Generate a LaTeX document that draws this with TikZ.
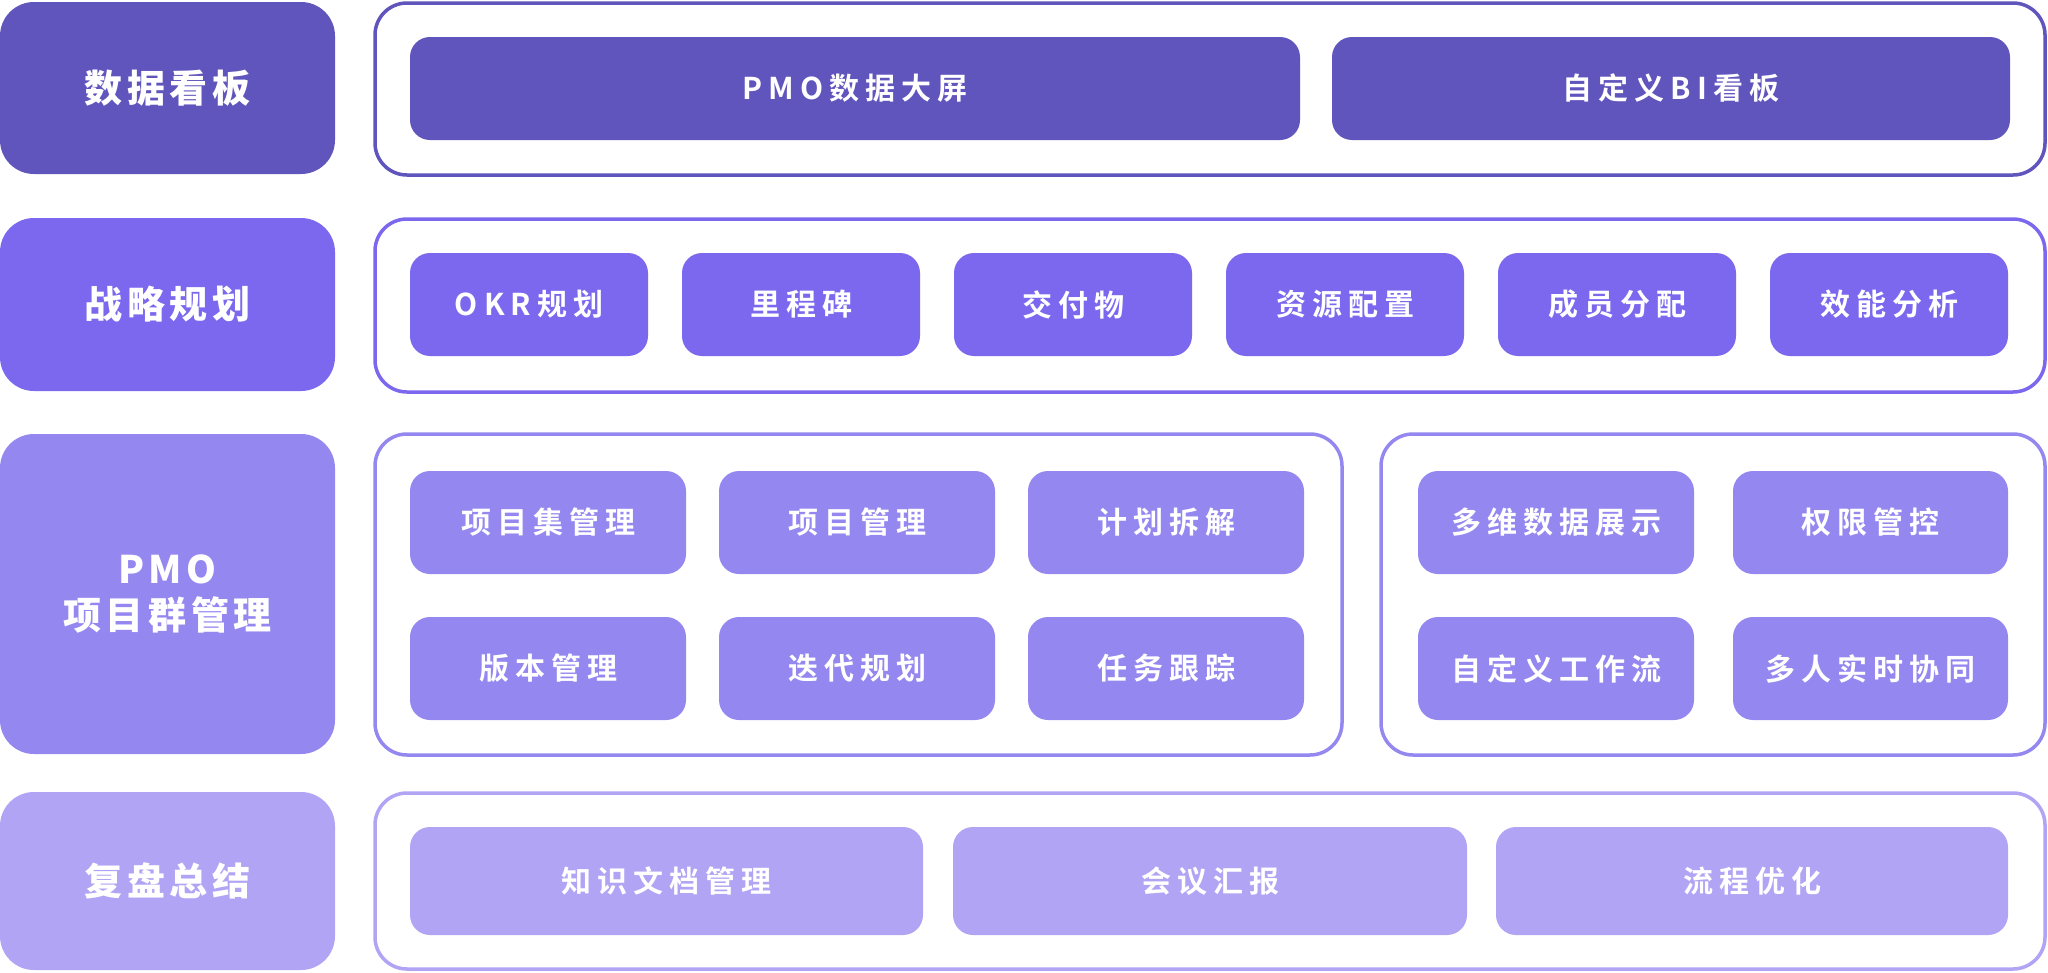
\documentclass[tikz,border=0pt]{standalone}
\usepackage{fontspec}
\setmainfont{Noto Sans CJK SC}
\newfontfamily\labfont{Noto Sans CJK SC}[LetterSpace=12, UprightFont=* Black]
\newfontfamily\boxfont{Noto Sans CJK SC}[LetterSpace=20, UprightFont=* Bold]
\definecolor{cA}{HTML}{6054BD}
\definecolor{cB}{HTML}{7B68EE}
\definecolor{cC}{HTML}{9488F0}
\definecolor{cD}{HTML}{B1A4F4}
\begin{document}
\begin{tikzpicture}[x=1pt,y=-1pt,
  lab/.style={fill=#1, draw=none, rounded corners=34pt, text=white, inner sep=0pt,
    font=\labfont\fontsize{38}{50}\selectfont, align=center, minimum width=335pt},
  frame/.style={draw=#1, line width=3.5pt, fill=white, rounded corners=32pt, inner sep=0pt},
  item/.style={fill=#1, draw=none, rounded corners=20pt, text=white, inner sep=0pt,
    font=\boxfont\fontsize{30}{36}\selectfont}
]
\useasboundingbox (0,0) rectangle (2048,972);
\fill[white] (0,0) rectangle (2048,972);

% ---------- left labels
\node[lab=cA, minimum height=172pt] (l1) at (167.5,88) {数据看板};
\node[lab=cB, minimum height=173pt] (l2) at (167.5,304.5) {战略规划};
\node[lab=cC, minimum height=320pt] (l3) at (167.5,594) {PMO\\[-4pt]项目群管理};
\node[lab=cD, minimum height=178pt] (l4) at (167.5,881) {复盘总结};

% ---------- frames
\node[frame=cA, minimum width=1670pt, minimum height=172pt] (f1) at (1210,89) {};
\node[frame=cB, minimum width=1670pt, minimum height=173pt] (f2) at (1210,305.5) {};
\node[frame=cC, minimum width=967pt, minimum height=321pt] (f3a) at (858.5,594.5) {};
\node[frame=cC, minimum width=664pt, minimum height=321pt] (f3b) at (1713,594.5) {};
\node[frame=cD, minimum width=1670pt, minimum height=176pt] (f4) at (1210,881) {};

% ---------- row 1
\node[item=cA, minimum width=890pt, minimum height=103pt] (a1) at (855,88.5) {PMO数据大屏};
\node[item=cA, minimum width=678pt, minimum height=103pt] (a2) at (1671,88.5) {自定义BI看板};

% ---------- row 2
\node[item=cB, minimum width=238pt, minimum height=103pt] (b1) at (529,304.5) {OKR规划};
\node[item=cB, minimum width=238pt, minimum height=103pt] (b2) at (801,304.5) {里程碑};
\node[item=cB, minimum width=238pt, minimum height=103pt] (b3) at (1073,304.5) {交付物};
\node[item=cB, minimum width=238pt, minimum height=103pt] (b4) at (1345,304.5) {资源配置};
\node[item=cB, minimum width=238pt, minimum height=103pt] (b5) at (1617,304.5) {成员分配};
\node[item=cB, minimum width=238pt, minimum height=103pt] (b6) at (1889,304.5) {效能分析};

% ---------- row 3 left
\node[item=cC, minimum width=276pt, minimum height=103pt] (c1) at (548,522.5) {项目集管理};
\node[item=cC, minimum width=276pt, minimum height=103pt] (c2) at (857,522.5) {项目管理};
\node[item=cC, minimum width=276pt, minimum height=103pt] (c3) at (1166,522.5) {计划拆解};
\node[item=cC, minimum width=276pt, minimum height=103pt] (c4) at (548,668.5) {版本管理};
\node[item=cC, minimum width=276pt, minimum height=103pt] (c5) at (857,668.5) {迭代规划};
\node[item=cC, minimum width=276pt, minimum height=103pt] (c6) at (1166,668.5) {任务跟踪};

% ---------- row 3 right
\node[item=cC, minimum width=276pt, minimum height=103pt] (d1) at (1556,522.5) {多维数据展示};
\node[item=cC, minimum width=275pt, minimum height=103pt] (d2) at (1870.5,522.5) {权限管控};
\node[item=cC, minimum width=276pt, minimum height=103pt] (d3) at (1556,668.5) {自定义工作流};
\node[item=cC, minimum width=275pt, minimum height=103pt] (d4) at (1870.5,668.5) {多人实时协同};

% ---------- row 4
\node[item=cD, minimum width=513pt, minimum height=108pt] (e1) at (666.5,881) {知识文档管理};
\node[item=cD, minimum width=514pt, minimum height=108pt] (e2) at (1210,881) {会议汇报};
\node[item=cD, minimum width=512pt, minimum height=108pt] (e3) at (1752,881) {流程优化};
\end{tikzpicture}
\end{document}
